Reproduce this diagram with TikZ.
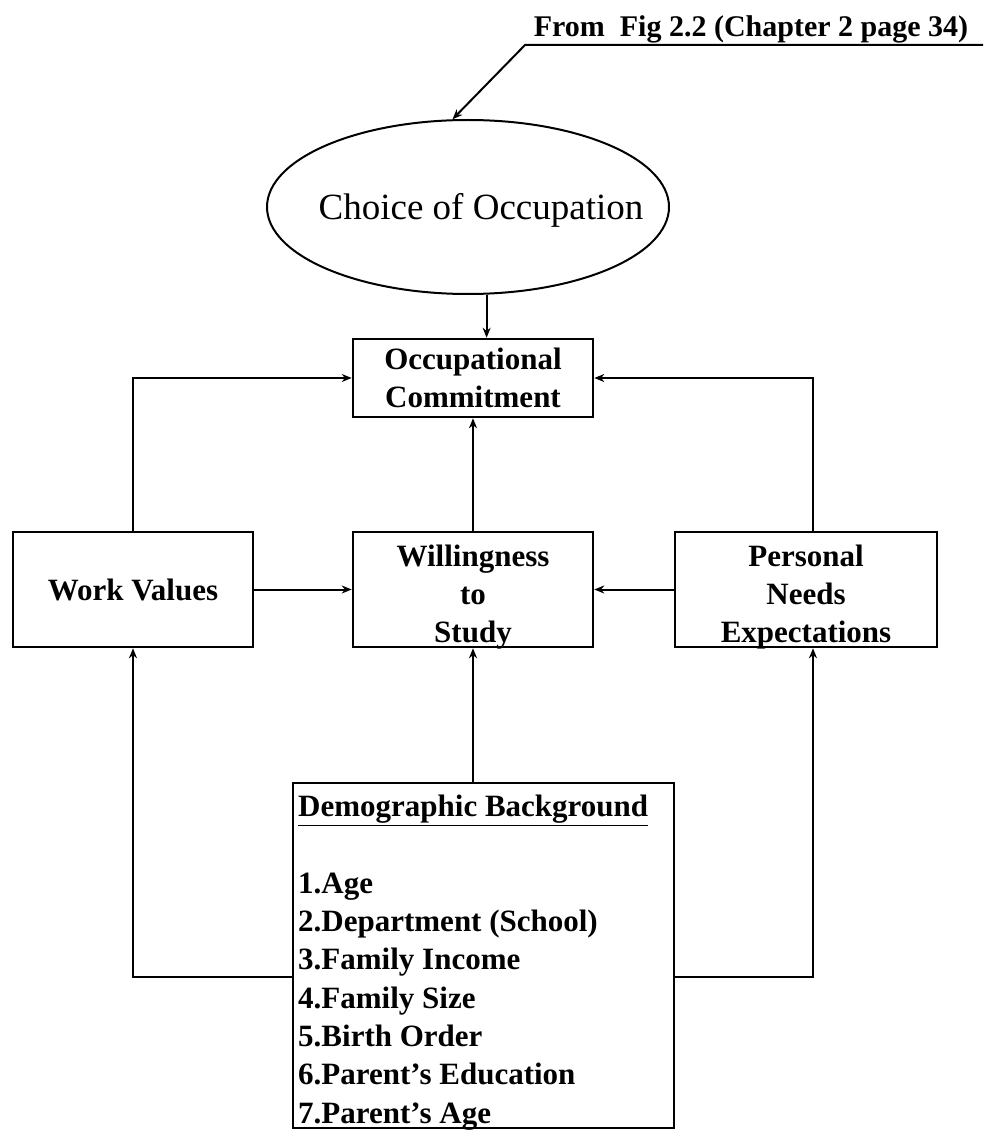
\documentclass[tikz,border=0pt]{standalone}
\usepackage{fontspec}
\setmainfont{Liberation Serif}
\usetikzlibrary{arrows.meta,shapes.geometric,calc}
\begin{document}
\begin{tikzpicture}[x=1pt,y=-1pt,
  box/.style={draw,line width=2.6pt,inner sep=0pt},
  boxtext/.style={inner sep=0pt,align=center,
    font=\fontsize{31}{38}\selectfont\bfseries},
  link/.style={line width=2pt},
  arr/.style={link,-{Stealth[length=10pt,width=8pt]}},
]
\useasboundingbox (0,0) rectangle (983,1131);

% source note and its leader line
\node[anchor=base,inner sep=0pt,font=\fontsize{30}{36}\selectfont\bfseries]
  (src) at (751,37) {From\ \ Fig 2.2 (Chapter 2 page 34)};
\coordinate (lineend) at (983,45);
\coordinate (bend) at (525,45);

% choice ellipse
\node[draw,ellipse,line width=2pt,minimum width=402pt,minimum height=174pt,
  inner sep=0pt] (choice) at (468,207) {};
\node[inner sep=0pt,font=\fontsize{37}{44}\selectfont]
  (choicetext) at (481,210) {Choice of Occupation};

% boxes
\node[box,minimum width=240pt,minimum height=78pt] (occ) at (473,378) {};
\node[boxtext] (occtext) at (occ) {Occupational\\Commitment};

\node[box,minimum width=240pt,minimum height=115pt] (wv) at (133,589.5) {};
\node[boxtext] (wvtext) at (wv) {Work Values};

\node[box,minimum width=240pt,minimum height=115pt] (will) at (473,589.5) {};
\node[boxtext] (willtext) at ([yshift=-8pt]will.center) {Willingness\\to\\Study};

\node[box,minimum width=262pt,minimum height=115pt] (pne) at (806,589.5) {};
\node[boxtext] (pnetext) at ([yshift=-8pt]pne.center) {Personal\\Needs\\Expectations};

% demographic background box and its list
\node[box,minimum width=381pt,minimum height=345pt] (demo) at (483.5,955.5) {};
\node[anchor=north west,inner sep=0pt,align=left,
  font=\fontsize{31}{38.3}\selectfont\bfseries] (demotext) at (298,795)
  {\underline{Demographic Background}\\[38.3pt]
   1.Age\\
   2.Department (School)\\
   3.Family Income\\
   4.Family Size\\
   5.Birth Order\\
   6.Parent's Education\\
   7.Parent's Age};

% connectors
\draw[arr] (lineend) -- (bend) -- (choice.100);
\draw[arr] (choice.-78) -- (choice.-78 |- occ.north);
\draw[arr] (wv.north) |- (occ.west);
\draw[arr] ([xshift=7pt]pne.north) |- (occ.east);
\draw[arr] (will.north) -- (occ.south);
\draw[arr] (wv.east) -- (will.west);
\draw[arr] (pne.west) -- (will.east);
\draw[arr] (demo.north -| will.south) -- (will.south);
\draw[arr] ([yshift=-21.5pt]demo.west) -| (wv.south);
\draw[arr] ([yshift=-21.5pt]demo.east) -| ([xshift=7pt]pne.south);
\end{tikzpicture}
\end{document}
